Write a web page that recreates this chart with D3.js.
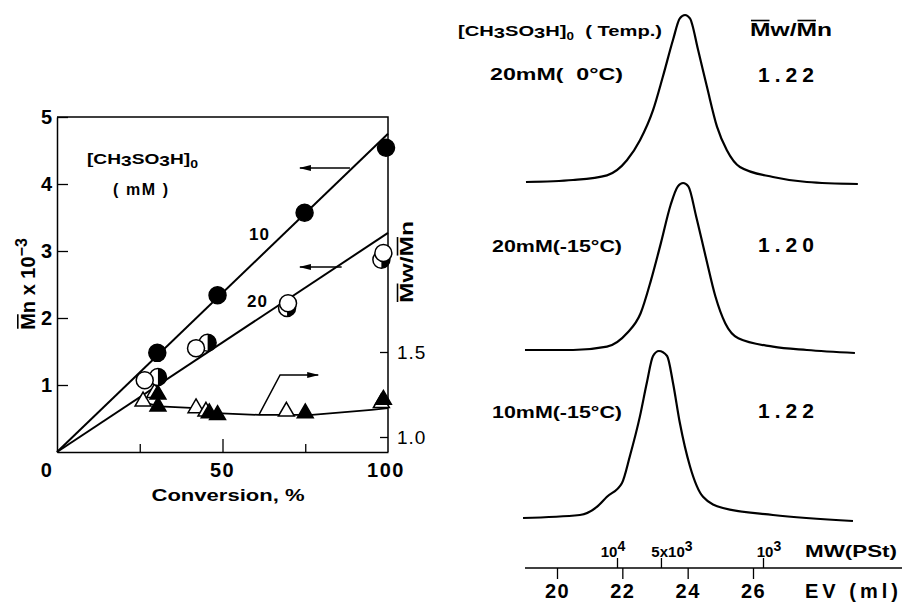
<!DOCTYPE html>
<html>
<head>
<meta charset="utf-8">
<script src="https://cdn.jsdelivr.net/npm/d3@7"></script>
<style>
  body { margin: 0; background: #fff; }
  svg { display: block; }
  text { font-family: "Liberation Sans", Arial, sans-serif; fill: #000; }
</style>
</head>
<body>
<div id="chart"></div>
<script>
// left panel: Mn vs conversion, two acid concentrations
const conv10 = [30.3, 48.5, 74.8, 99.4];
const mn10 = [1.48, 2.34, 3.57, 4.54];
const conv20 = [26.5, 42, 69.8, 98.6];
const mn20 = [1.07, 1.55, 2.22, 2.97];
const convHalf = [30.5, 45.5, 69.5, 98];
const mnHalf = [1.12, 1.63, 2.15, 2.87];
const fit10 = [[0, 0], [100, 4.75]];
const fit20 = [[0, 0], [100, 3.27]];

// Mw/Mn (right axis)
const pdiOpen = [[26, 1.21], [29.5, 1.26], [42, 1.17], [45, 1.15], [69.3, 1.15], [98, 1.2]];
const pdiFilled = [[30.5, 1.25], [30.5, 1.18], [46, 1.14], [48.5, 1.13], [75, 1.14], [98.6, 1.22]];
const pdiLine = [[27, 1.2], [31, 1.18], [42, 1.17], [48, 1.14], [61, 1.13], [70, 1.13], [77, 1.13], [95, 1.16], [100, 1.17]];

const xTicksMajor = [50];
const xTicksMinor = [25, 75];
const yTicks = [1, 2, 3, 4, 5];
const pdiTicks = [1.0, 1.5];

// right panel: GPC traces (EV in ml, normalised height)
const traceA = [[19.05, 0], [20.49, 0.012], [21.53, 0.04], [22.14, 0.13], [22.54, 0.25], [22.94, 0.43], [23.24, 0.63], [23.55, 0.85], [23.76, 0.98], [23.92, 1.0], [24.07, 0.98], [24.32, 0.79], [24.59, 0.57], [24.9, 0.33], [25.2, 0.19], [25.6, 0.09], [26.61, 0.03], [27.65, 0], [29.21, -0.012]];
const traceB = [[19.02, 0], [20.49, 0], [21.53, 0.02], [22.14, 0.1], [22.56, 0.22], [22.88, 0.42], [23.18, 0.64], [23.48, 0.87], [23.7, 0.98], [23.86, 1.0], [24.02, 0.98], [24.26, 0.8], [24.55, 0.56], [24.85, 0.32], [25.15, 0.16], [25.55, 0.07], [26.61, 0.02], [27.65, 0], [29.12, -0.018]];
const traceC = [[18.96, 0], [20.7, 0.018], [21.22, 0.066], [21.53, 0.127], [21.99, 0.21], [22.23, 0.37], [22.54, 0.61], [22.75, 0.81], [22.94, 0.97], [23.12, 1.0], [23.37, 0.97], [23.55, 0.81], [23.76, 0.57], [24.07, 0.31], [24.47, 0.127], [25.08, 0.06], [26.61, 0.018], [29.06, -0.018]];
const traceLabels = ["20mM(  0\u00B0C)", "20mM(-15\u00B0C)", "10mM(-15\u00B0C)"];
const tracePdi = ["1.22", "1.20", "1.22"];
const evTicks = [20, 22, 24, 26];
const mwTicks = [1e4, 5e3, 1e3];
const mwTickLabels = [["10", "4"], ["5x10", "3"], ["10", "3"]];

const W = 904, H = 602;
const font = '"Liberation Sans", Arial, sans-serif';
const SG = "spacingAndGlyphs";

const svg = d3.select("#chart").append("svg")
    .attr("width", W)
    .attr("height", H);

svg.append("defs").append("marker")
    .attr("id", "arr")
    .attr("markerUnits", "userSpaceOnUse")
    .attr("viewBox", "0 0 12 8")
    .attr("refX", 11)
    .attr("refY", 4)
    .attr("markerWidth", 12)
    .attr("markerHeight", 8)
    .attr("orient", "auto")
    .append("path")
    .attr("d", "M0,1 L12,4 L0,7 Z")
    .attr("fill", "#000");

// overbar on given characters of a text element
function overbar(g, textSel, idx, fs) {
    const node = textSel.node();
    const y0 = +textSel.attr("y") || 0;
    idx.forEach(i => {
        const e = node.getExtentOfChar(i);
        g.append("line")
            .attr("x1", e.x + 1)
            .attr("x2", e.x + e.width - 1)
            .attr("y1", y0 - fs * 0.86)
            .attr("y2", y0 - fs * 0.86)
            .attr("stroke", "#000")
            .attr("stroke-width", 1.6);
    });
}

// ---------------- left panel ----------------
const x = d3.scaleLinear().domain([0, 100]).range([57, 388]);
const y = d3.scaleLinear().domain([0, 5]).range([452, 117]);
const yR = d3.scaleLinear().domain([1.0, 1.5]).range([437, 352]);

const left = svg.append("g");

// frame
left.append("path")
    .attr("d", `M${x(0)},${y(5)} L${x(100)},${y(5)} L${x(100)},${y(0)}`)
    .attr("fill", "none")
    .attr("stroke", "#000")
    .attr("stroke-width", 1.5);

const yAxis = left.append("g")
    .attr("transform", `translate(${x(0)},0)`)
    .call(d3.axisLeft(y).tickValues(yTicks).tickSizeInner(-11).tickSizeOuter(0).tickPadding(6).tickFormat(d3.format("d")));
yAxis.select(".domain").attr("stroke-width", 1.5);
yAxis.selectAll(".tick line").attr("stroke-width", 1.3);
yAxis.selectAll(".tick text")
    .attr("font-family", font)
    .attr("font-size", 20)
    .attr("font-weight", "bold")
    .attr("x", -5);

const xAxisMinor = left.append("g")
    .attr("transform", `translate(0,${y(0)})`)
    .call(d3.axisBottom(x).tickValues(xTicksMinor).tickSizeInner(-8).tickSizeOuter(0).tickFormat(""));
const xAxis = left.append("g")
    .attr("transform", `translate(0,${y(0)})`)
    .call(d3.axisBottom(x).tickValues(xTicksMajor).tickSizeInner(-13).tickSizeOuter(0).tickFormat(""));
xAxisMinor.select(".domain").attr("stroke-width", 1.5);
xAxis.select(".domain").remove();
left.selectAll(".tick line").attr("stroke-width", 1.3);

left.selectAll(".xlab")
    .data([0, 50, 100])
    .enter().append("text")
    .attr("class", "xlab")
    .attr("x", d => d === 0 ? x(0) - 10 : x(d) - (d === 100 ? 2 : 0))
    .attr("y", 477)
    .attr("text-anchor", "middle")
    .attr("font-size", 20)
    .attr("font-weight", "bold")
    .attr("letter-spacing", 1.5)
    .text(d => d);

left.append("text")
    .attr("x", 228)
    .attr("y", 501)
    .attr("text-anchor", "middle")
    .attr("font-size", 17)
    .attr("font-weight", "bold")
    .attr("textLength", 153)
    .attr("lengthAdjust", SG)
    .text("Conversion, %");

// right axis (Mw/Mn)
const rAxis = left.append("g")
    .attr("transform", `translate(${x(100)},0)`)
    .call(d3.axisRight(yR).tickValues(pdiTicks).tickSizeInner(-8).tickSizeOuter(0).tickPadding(9).tickFormat(d3.format(".1f")));
rAxis.select(".domain").remove();
rAxis.selectAll(".tick line").attr("stroke-width", 1.3);
rAxis.selectAll(".tick text")
    .attr("font-family", font)
    .attr("font-size", 19)
    .attr("letter-spacing", 1);

// y label left
const yl = left.append("g").attr("transform", "translate(35,284) rotate(-90)");
const ylText = yl.append("text")
    .attr("x", 0).attr("y", 0)
    .attr("text-anchor", "middle")
    .attr("font-size", 20)
    .attr("font-weight", "bold");
ylText.append("tspan").text("Mn x 10");
ylText.append("tspan").attr("dy", -8).attr("font-size", 16).text("\u22123");
overbar(yl, ylText, [0], 20);

// y label right
const yr = left.append("g").attr("transform", "translate(413,262) rotate(-90)");
const yrText = yr.append("text")
    .attr("x", 0).attr("y", 0)
    .attr("text-anchor", "middle")
    .attr("font-size", 18)
    .attr("font-weight", "bold")
    .attr("textLength", 82)
    .attr("lengthAdjust", SG)
    .text("Mw/Mn");
overbar(yr, yrText, [0, 3], 18);

// legend text
const lg = left.append("text")
    .attr("x", 87).attr("y", 164)
    .attr("font-size", 15)
    .attr("font-weight", "bold")
    .attr("textLength", 111)
    .attr("lengthAdjust", SG);
lg.append("tspan").text("[CH");
lg.append("tspan").attr("dy", 2).text("3");
lg.append("tspan").attr("dy", -2).text("SO");
lg.append("tspan").attr("dy", 2).text("3");
lg.append("tspan").attr("dy", -2).text("H]");
lg.append("tspan").attr("dy", 4).attr("font-size", 11).text("0");

left.append("text")
    .attr("x", 113).attr("y", 195)
    .attr("font-size", 16)
    .attr("font-weight", "bold")
    .attr("textLength", 55)
    .attr("lengthAdjust", "spacing")
    .style("white-space", "pre")
    .text("( mM )");

left.append("text").attr("x", 249).attr("y", 240)
    .attr("font-size", 17).attr("font-weight", "bold").attr("letter-spacing", 1).text("10");
left.append("text").attr("x", 247).attr("y", 307)
    .attr("font-size", 17).attr("font-weight", "bold").attr("letter-spacing", 1).text("20");

// fits
const lineL = d3.line().x(d => x(d[0])).y(d => y(d[1]));
[fit10, fit20].forEach(f => {
    left.append("path")
        .attr("d", lineL(f))
        .attr("fill", "none")
        .attr("stroke", "#000")
        .attr("stroke-width", 2);
});

const linePdi = d3.line().x(d => x(d[0])).y(d => yR(d[1]));
left.append("path")
    .attr("d", linePdi(pdiLine))
    .attr("fill", "none")
    .attr("stroke", "#000")
    .attr("stroke-width", 1.8);

// arrows
const arrows = [
    { pts: [[88.5, 4.24], [73.4, 4.24]], sc: y },
    { pts: [[86, 2.76], [73.4, 2.76]], sc: y },
    { pts: [[61, 1.13], [67.4, 1.365], [78.9, 1.365]], sc: yR }
];
arrows.forEach(a => {
    left.append("path")
        .attr("d", d3.line().x(d => x(d[0])).y(d => a.sc(d[1]))(a.pts))
        .attr("fill", "none")
        .attr("stroke", "#000")
        .attr("stroke-width", 1.5)
        .attr("marker-end", "url(#arr)");
});

// triangles
const tri = d3.symbol().type(d3.symbolTriangle).size(110);
left.selectAll(".tO")
    .data(pdiOpen)
    .enter().append("path")
    .attr("transform", d => `translate(${x(d[0])},${yR(d[1])})`)
    .attr("d", tri)
    .attr("fill", "#fff")
    .attr("stroke", "#000")
    .attr("stroke-width", 1.5);
left.selectAll(".tF")
    .data(pdiFilled)
    .enter().append("path")
    .attr("transform", d => `translate(${x(d[0])},${yR(d[1])})`)
    .attr("d", tri)
    .attr("fill", "#000")
    .attr("stroke", "#000")
    .attr("stroke-width", 1.5);

// circles
const r = 8.5;
const halfArc = d3.arc().innerRadius(0).outerRadius(r).startAngle(0).endAngle(Math.PI);
const half = left.selectAll(".ch")
    .data(convHalf.map((c, i) => [c, mnHalf[i]]))
    .enter().append("g")
    .attr("transform", d => `translate(${x(d[0])},${y(d[1])})`);
half.append("circle").attr("r", r).attr("fill", "#fff").attr("stroke", "#000").attr("stroke-width", 1.5);
half.append("path").attr("d", halfArc).attr("fill", "#000");

left.selectAll(".co")
    .data(conv20.map((c, i) => [c, mn20[i]]))
    .enter().append("circle")
    .attr("cx", d => x(d[0]))
    .attr("cy", d => y(d[1]))
    .attr("r", r)
    .attr("fill", "#fff")
    .attr("stroke", "#000")
    .attr("stroke-width", 1.5);

left.selectAll(".cf")
    .data(conv10.map((c, i) => [c, mn10[i]]))
    .enter().append("circle")
    .attr("cx", d => x(d[0]))
    .attr("cy", d => y(d[1]))
    .attr("r", r)
    .attr("fill", "#000")
    .attr("stroke", "#000")
    .attr("stroke-width", 1.5);

// ---------------- right panel ----------------
const ev = d3.scaleLinear().domain([20, 26]).range([557, 753]);
const mw = d3.scaleLog().domain([1e4, 1e3]).range([617, 763]);
const axisY = 568;
const baselines = [182, 350, 518];
const peakH = 167;

const right = svg.append("g");

[traceA, traceB, traceC].forEach((t, i) => {
    const h = d3.scaleLinear().domain([0, 1]).range([baselines[i], baselines[i] - peakH]);
    right.append("path")
        .attr("d", d3.line().curve(d3.curveMonotoneX).x(d => ev(d[0])).y(d => h(d[1]))(t))
        .attr("fill", "none")
        .attr("stroke", "#000")
        .attr("stroke-width", 2.2)
        .attr("stroke-linejoin", "round");
});

const labelY = [80, 252, 418];
const pdiY = [82, 252, 418];
right.selectAll(".tl")
    .data(traceLabels)
    .enter().append("text")
    .attr("x", (d, i) => i === 0 ? 490 : 492)
    .attr("y", (d, i) => labelY[i])
    .attr("font-size", 16)
    .attr("font-weight", "bold")
    .attr("textLength", (d, i) => i === 0 ? 133 : 130)
    .attr("lengthAdjust", SG)
    .style("white-space", "pre")
    .text(d => d);

right.selectAll(".tp")
    .data(tracePdi)
    .enter().append("text")
    .attr("x", 758)
    .attr("y", (d, i) => pdiY[i])
    .attr("font-size", 21)
    .attr("textLength", 56)
    .attr("lengthAdjust", "spacing")
    .style("font-weight", 600)
    .text(d => d);

// header
const hd = right.append("text")
    .attr("x", 458).attr("y", 36)
    .attr("font-size", 15)
    .attr("font-weight", "bold")
    .attr("textLength", 204)
    .attr("lengthAdjust", SG)
    .style("white-space", "pre");
hd.append("tspan").text("[CH");
hd.append("tspan").attr("dy", 2).text("3");
hd.append("tspan").attr("dy", -2).text("SO");
hd.append("tspan").attr("dy", 2).text("3");
hd.append("tspan").attr("dy", -2).text("H]");
hd.append("tspan").attr("dy", 4).attr("font-size", 10).text("0");
hd.append("tspan").attr("dy", -4).text("  ( Temp.)");

const mwHead = right.append("g");
const mwHeadText = mwHead.append("text")
    .attr("x", 750).attr("y", 36)
    .attr("font-size", 18)
    .attr("font-weight", "bold")
    .attr("textLength", 82)
    .attr("lengthAdjust", SG)
    .text("Mw/Mn");
overbar(mwHead, mwHeadText, [0, 3], 18);

// bottom axis: EV below, MW above
right.append("line")
    .attr("x1", 525).attr("x2", 902)
    .attr("y1", axisY).attr("y2", axisY)
    .attr("stroke", "#000")
    .attr("stroke-width", 1.5);

const evAxis = right.append("g")
    .attr("transform", `translate(0,${axisY})`)
    .call(d3.axisBottom(ev).tickValues(evTicks).tickSizeInner(11).tickSizeOuter(0).tickPadding(6).tickFormat(d3.format("d")));
evAxis.select(".domain").remove();
evAxis.selectAll(".tick line").attr("stroke-width", 1.3);
evAxis.selectAll(".tick text")
    .attr("font-family", font)
    .attr("font-size", 20)
    .attr("font-weight", "bold")
    .attr("letter-spacing", 1.5)
    .attr("dy", null)
    .attr("y", 30);

const mwAxis = right.append("g")
    .attr("transform", `translate(0,${axisY})`)
    .call(d3.axisTop(mw).tickValues(mwTicks).tickSizeInner(10).tickSizeOuter(0).tickFormat(""));
mwAxis.select(".domain").remove();
mwAxis.selectAll(".tick line").attr("stroke-width", 1.3);

right.selectAll(".mwl")
    .data(mwTicks)
    .enter().append("text")
    .attr("x", (d, i) => mw(d) + [-4, 11, 6][i])
    .attr("y", 557)
    .attr("text-anchor", "middle")
    .attr("font-size", 15)
    .attr("font-weight", "bold")
    .each(function(d, i) {
        const t = d3.select(this);
        t.append("tspan").text(mwTickLabels[i][0]);
        t.append("tspan").attr("dy", -6).attr("font-size", 14).text(mwTickLabels[i][1]);
    });

right.append("text")
    .attr("x", 805).attr("y", 557)
    .attr("font-size", 17)
    .attr("font-weight", "bold")
    .attr("textLength", 92)
    .attr("lengthAdjust", SG)
    .text("MW(PSt)");

right.append("text")
    .attr("x", 805).attr("y", 598)
    .attr("font-size", 20)
    .attr("font-weight", "bold")
    .attr("textLength", 93)
    .attr("lengthAdjust", "spacing")
    .style("white-space", "pre")
    .text("EV (ml)");
</script>
</body>
</html>
